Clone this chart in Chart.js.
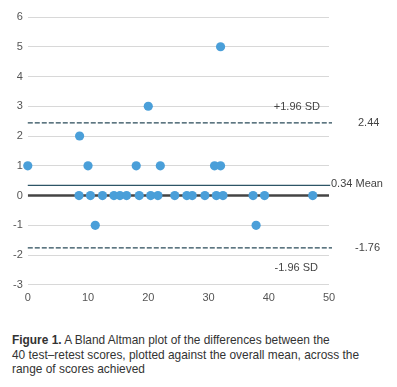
<!DOCTYPE html>
<html>
<head>
<meta charset="utf-8">
<script src="https://cdn.jsdelivr.net/npm/chart.js@4"></script>
<style>
  body { margin: 0; background: #fff; font-family: "Liberation Sans", Arial, sans-serif; }
  #wrap { position: relative; width: 397px; height: 316px; }
  #caption { position: absolute; left: 12px; top: 333px; width: 385px; font-size: 11.9px; line-height: 14.5px; color: #333; }
</style>
</head>
<body>
<div id="wrap"><canvas id="baChart"></canvas></div>
<div id="caption"><b>Figure 1.</b> A Bland Altman plot of the differences between the<br>40 test–retest scores, plotted against the overall mean, across the<br>range of scores achieved</div>
<script>
// Bland Altman: mean score (x) vs difference (y)
const meanScores = [0, 10, 18, 22, 31, 32,
  8.5, 10.4, 12.4, 14.3, 15.3, 16.4, 18.5, 20.4, 21.6, 24.4, 26.4, 27.3, 29.4, 31.3, 32.4, 37.4, 39.3, 47.3,
  8.6, 20, 32, 11.2, 37.9];
const differences = [1, 1, 1, 1, 1, 1,
  0, 0, 0, 0, 0, 0, 0, 0, 0, 0, 0, 0, 0, 0, 0, 0, 0, 0,
  2, 3, 5, -1, -1];
const meanDiff = 0.34;
const upperLimit = 2.44;
const lowerLimit = -1.76;
const yTicks = [-3, -2, -1, 0, 1, 2, 3, 4, 5, 6];
const xTicks = [0, 10, 20, 30, 40, 50];

const points = meanScores.map((x, i) => ({ x: x, y: differences[i] }));
const hline = (y, x0, x1) => [{ x: x0, y: y }, { x: x1, y: y }];

const lineLabels = {
  id: 'lineLabels',
  afterDraw(chart) {
    const { ctx, chartArea, scales } = chart;
    const y = v => scales.y.getPixelForValue(v);
    ctx.save();
    ctx.font = '11px "Liberation Sans", Arial, sans-serif';
    ctx.fillStyle = '#444';
    ctx.textBaseline = 'middle';
    ctx.textAlign = 'left';
    ctx.fillText('2.44', chartArea.right + 29, y(upperLimit));
    ctx.fillText('0.34 Mean', chartArea.right + 2, y(meanDiff) - 1);
    ctx.fillText('-1.76', chartArea.right + 26, y(lowerLimit));
    ctx.textAlign = 'right';
    ctx.fillText('+1.96 SD', chartArea.right - 9, y(3) + 1);
    ctx.fillText('-1.96 SD', chartArea.right - 11, y(-2.45));
    ctx.restore();
  }
};

new Chart(document.getElementById('baChart'), {
  type: 'scatter',
  data: {
    datasets: [
      {
        data: points,
        backgroundColor: '#4a9fd9',
        borderWidth: 0,
        pointRadius: 4.6,
        clip: false,
        order: 0
      },
      {
        type: 'line',
        data: hline(0, 0, 50),
        borderColor: '#444',
        borderWidth: 2.5,
        pointRadius: 0,
        order: 1
      },
      {
        type: 'line',
        data: hline(meanDiff, 0, 50.2),
        borderColor: '#2d5566',
        borderWidth: 1.2,
        pointRadius: 0,
        clip: false,
        order: 1
      },
      {
        type: 'line',
        data: hline(upperLimit, 0, 50.5),
        borderColor: '#284a58',
        borderWidth: 1.2,
        borderDash: [5, 2],
        pointRadius: 0,
        clip: false,
        order: 1
      },
      {
        type: 'line',
        data: hline(lowerLimit, 0, 50.5),
        borderColor: '#284a58',
        borderWidth: 1.2,
        borderDash: [5, 2],
        pointRadius: 0,
        clip: false,
        order: 1
      }
    ]
  },
  options: {
    responsive: true,
    maintainAspectRatio: false,
    animation: false,
    layout: { padding: { left: 8, right: 68, top: 17, bottom: 4 } },
    plugins: {
      legend: { display: false },
      tooltip: { enabled: false }
    },
    scales: {
      x: {
        type: 'linear',
        min: 0, max: 50,
        afterBuildTicks: s => { s.ticks = xTicks.map(v => ({ value: v })); },
        grid: { display: false, drawTicks: false },
        border: { display: false },
        ticks: { color: '#555', font: { size: 11, family: '"Liberation Sans", Arial, sans-serif' }, padding: 7 }
      },
      y: {
        min: -3, max: 6,
        afterBuildTicks: s => { s.ticks = yTicks.map(v => ({ value: v })); },
        grid: { color: '#d8d8d8', drawTicks: false },
        border: { display: false },
        ticks: { color: '#555', font: { size: 11, family: '"Liberation Sans", Arial, sans-serif' }, padding: 5 }
      }
    }
  },
  plugins: [lineLabels]
});
</script>
</body>
</html>
